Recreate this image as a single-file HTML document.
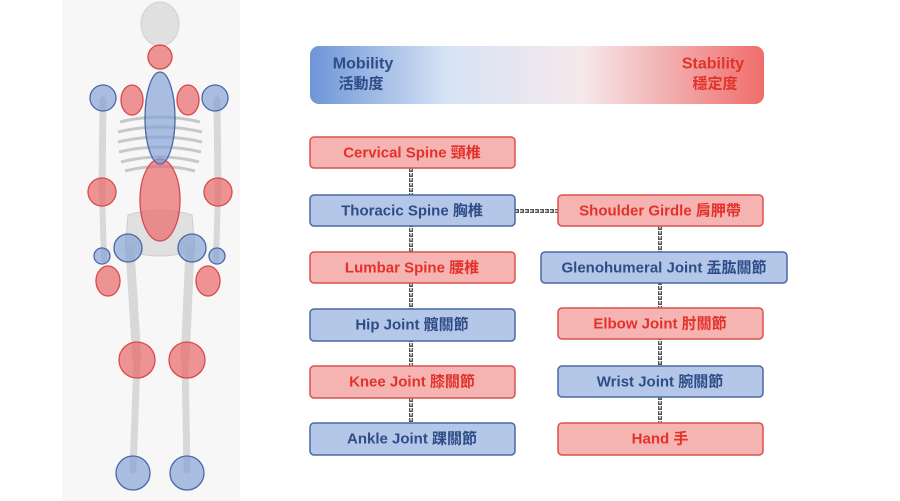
<!DOCTYPE html>
<html><head><meta charset="utf-8"><style>
html,body{margin:0;padding:0;background:#fff;}
svg{display:block}
.t{font-family:"Liberation Sans","Noto Sans CJK TC",sans-serif;font-weight:bold;font-size:15px;text-anchor:middle;dominant-baseline:central}
.r{fill:#e2322b}.b{fill:#2e4c86}
</style></head><body>
<svg width="900" height="501" viewBox="0 0 900 501" xmlns="http://www.w3.org/2000/svg">
<defs>
<linearGradient id="g" x1="0" x2="1" y1="0" y2="0">
<stop offset="0" stop-color="#6e95d8"/><stop offset="0.3" stop-color="#d6e3f5"/>
<stop offset="0.6" stop-color="#f5e9ec"/><stop offset="1" stop-color="#ef6d6b"/>
</linearGradient>
</defs>
<rect x="62" y="0" width="178" height="501" fill="#f7f7f7"/>
<g fill="#e0e0e0" stroke="#cfcfcf" stroke-width="1">
<ellipse cx="160" cy="24" rx="19" ry="22"/>
<path d="M128 215 Q160 205 192 215 L195 250 Q160 262 125 250Z"/>
</g>
<g stroke="#c8c8c8" stroke-width="3" fill="none">
<path d="M120 122 Q160 112 200 122"/><path d="M118 132 Q160 122 202 132"/>
<path d="M118 142 Q160 132 202 142"/><path d="M119 152 Q160 142 201 152"/>
<path d="M121 162 Q160 152 199 162"/><path d="M125 171 Q160 162 195 171"/>
</g>
<g stroke="#d8d8d8" stroke-linecap="round" fill="none">
<line x1="103" y1="100" x2="102" y2="192" stroke-width="7"/>
<line x1="217" y1="100" x2="218" y2="192" stroke-width="7"/>
<line x1="102" y1="192" x2="104" y2="260" stroke-width="6"/>
<line x1="218" y1="192" x2="216" y2="260" stroke-width="6"/>
<line x1="130" y1="250" x2="137" y2="360" stroke-width="9"/>
<line x1="190" y1="250" x2="185" y2="360" stroke-width="9"/>
<line x1="137" y1="360" x2="133" y2="470" stroke-width="7"/>
<line x1="185" y1="360" x2="187" y2="470" stroke-width="7"/>
</g>
<g fill="#e8686a" fill-opacity="0.7" stroke="#d9494a" stroke-width="1.3">
<circle cx="160" cy="57" r="12"/>
<ellipse cx="132" cy="100" rx="11" ry="15"/><ellipse cx="188" cy="100" rx="11" ry="15"/>
<ellipse cx="160" cy="200" rx="20" ry="41"/>
<circle cx="102" cy="192" r="14"/><circle cx="218" cy="192" r="14"/>
<ellipse cx="108" cy="281" rx="12" ry="15"/><ellipse cx="208" cy="281" rx="12" ry="15"/>
<circle cx="137" cy="360" r="18"/><circle cx="187" cy="360" r="18"/>
</g>
<g fill="#7f9ed6" fill-opacity="0.65" stroke="#4b67a6" stroke-width="1.3">
<circle cx="103" cy="98" r="13"/><circle cx="215" cy="98" r="13"/>
<ellipse cx="160" cy="118" rx="15" ry="46"/>
<circle cx="128" cy="248" r="14"/><circle cx="192" cy="248" r="14"/>
<circle cx="102" cy="256" r="8"/><circle cx="217" cy="256" r="8"/>
<circle cx="133" cy="473" r="17"/><circle cx="187" cy="473" r="17"/>
</g>
<rect x="310" y="46" width="454" height="58" rx="9" fill="url(#g)"/>
<text class="t b" x="363" y="64" style="font-size:16px">Mobility</text>
<text class="t b" x="361" y="84">活動度</text>
<text class="t r" x="713" y="64" style="font-size:16px">Stability</text>
<text class="t r" x="715" y="84">穩定度</text>
<g stroke="#555" stroke-width="4" stroke-dasharray="4 1" fill="none">
<line x1="411" y1="168" x2="411" y2="424"/>
<line x1="660" y1="226" x2="660" y2="424"/>
<line x1="515" y1="211" x2="558" y2="211"/>
</g>
<g stroke="#eee" stroke-width="1.5" stroke-dasharray="2.5 2.5" fill="none">
<line x1="411" y1="168" x2="411" y2="424"/>
<line x1="660" y1="226" x2="660" y2="424"/>
<line x1="515" y1="211" x2="558" y2="211"/>
</g>
<g stroke-width="1.5">
<rect x="310" y="137" width="205" height="31" rx="4" fill="#f5b3b1" stroke="#d9534f"/>
<rect x="310" y="195" width="205" height="31" rx="4" fill="#b4c7e8" stroke="#4a68a4"/>
<rect x="310" y="252" width="205" height="31" rx="4" fill="#f5b3b1" stroke="#d9534f"/>
<rect x="310" y="309" width="205" height="32" rx="4" fill="#b4c7e8" stroke="#4a68a4"/>
<rect x="310" y="366" width="205" height="32" rx="4" fill="#f5b3b1" stroke="#d9534f"/>
<rect x="310" y="423" width="205" height="32" rx="4" fill="#b4c7e8" stroke="#4a68a4"/>
<rect x="558" y="195" width="205" height="31" rx="4" fill="#f5b3b1" stroke="#d9534f"/>
<rect x="541" y="252" width="246" height="31" rx="4" fill="#b4c7e8" stroke="#4a68a4"/>
<rect x="558" y="308" width="205" height="31" rx="4" fill="#f5b3b1" stroke="#d9534f"/>
<rect x="558" y="366" width="205" height="31" rx="4" fill="#b4c7e8" stroke="#4a68a4"/>
<rect x="558" y="423" width="205" height="32" rx="4" fill="#f5b3b1" stroke="#d9534f"/>
</g>
<text class="t r" x="412" y="153">Cervical Spine 頸椎</text>
<text class="t b" x="412" y="211">Thoracic Spine 胸椎</text>
<text class="t r" x="412" y="268">Lumbar Spine 腰椎</text>
<text class="t b" x="412" y="325">Hip Joint 髖關節</text>
<text class="t r" x="412" y="382">Knee Joint 膝關節</text>
<text class="t b" x="412" y="439">Ankle Joint 踝關節</text>
<text class="t r" x="660" y="211">Shoulder Girdle 肩胛帶</text>
<text class="t b" x="664" y="268">Glenohumeral Joint 盂肱關節</text>
<text class="t r" x="660" y="324">Elbow Joint 肘關節</text>
<text class="t b" x="660" y="382">Wrist Joint 腕關節</text>
<text class="t r" x="660" y="439">Hand 手</text>
</svg>
</body></html>
